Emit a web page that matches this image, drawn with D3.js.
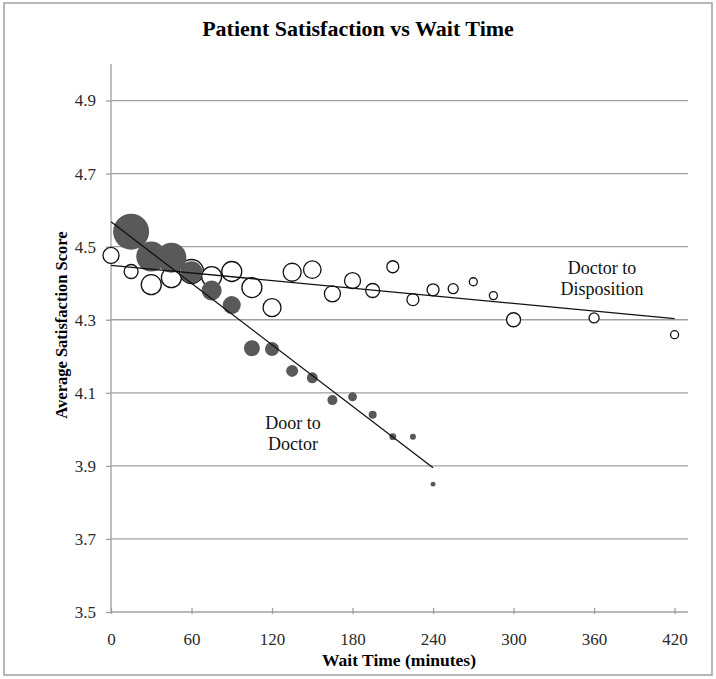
<!DOCTYPE html>
<html>
<head>
<meta charset="utf-8">
<script src="https://cdn.jsdelivr.net/npm/d3@7/dist/d3.min.js"></script>
<style>
  html, body { margin: 0; padding: 0; background: #fff; }
  svg { display: block; }
</style>
</head>
<body>
<svg id="chart" width="716" height="679"></svg>
<script>
// ---- Data ----
const title = "Patient Satisfaction vs Wait Time";
const xTitle = "Wait Time (minutes)";
const yTitle = "Average Satisfaction Score";

const xTicks = [0, 60, 120, 180, 240, 300, 360, 420];
const yTicks = [3.5, 3.7, 3.9, 4.1, 4.3, 4.5, 4.7, 4.9];

// Door to Doctor (filled bubbles)
const doorMinutes = [15, 30, 45, 60, 75, 90, 105, 120, 135, 150, 165, 180, 195, 210, 225, 240];
const doorScores  = [4.541, 4.473, 4.470, 4.430, 4.380, 4.340, 4.222, 4.220, 4.160, 4.141, 4.080, 4.089, 4.040, 3.980, 3.980, 3.850];
const doorSizes   = [324, 225, 225, 121, 100, 81, 64, 49, 36, 30, 25, 20, 16, 12, 9, 6];

// Doctor to Disposition (open bubbles)
const dispMinutes = [0, 15, 30, 45, 60, 75, 90, 105, 120, 135, 150, 165, 180, 195, 210, 225, 240, 255, 270, 285, 300, 360, 420];
const dispScores  = [4.476, 4.432, 4.396, 4.415, 4.432, 4.418, 4.432, 4.388, 4.333, 4.430, 4.437, 4.371, 4.407, 4.380, 4.445, 4.355, 4.382, 4.385, 4.404, 4.366, 4.300, 4.305, 4.259];
const dispSizes   = [64, 49, 100, 100, 144, 100, 100, 100, 81, 81, 76, 64, 64, 49, 36, 36, 36, 25, 16, 16, 49, 25, 16];

// Linear trendlines (endpoints)
const doorTrendX = [0, 240];
const doorTrendY = [4.568, 3.895];
const dispTrendX = [0, 420];
const dispTrendY = [4.449, 4.303];

const doorLabel = ["Door to", "Doctor"];
const dispLabel = ["Doctor to", "Disposition"];

// ---- Layout ----
const svg = d3.select("#chart");
const plot = { left: 111, right: 688, top: 64, bottom: 612 };
const font = "'Liberation Serif', 'Times New Roman', serif";

const x = d3.scaleLinear().domain([0, 430]).range([plot.left, plot.right]);
const y = d3.scaleLinear().domain([3.5, 5.0]).range([plot.bottom, plot.top]);
const r = d3.scaleSqrt().domain([0, 324]).range([0, 18]);

// outer border
svg.append("rect")
  .attr("x", 4).attr("y", 3).attr("width", 708).attr("height", 672)
  .attr("fill", "#fff").attr("stroke", "#a6a6a6").attr("stroke-width", 1.6);

// gridlines
svg.append("g").selectAll("line")
  .data(yTicks.filter(v => v > 3.5))
  .join("line")
  .attr("x1", plot.left).attr("x2", plot.right)
  .attr("y1", d => y(d)).attr("y2", d => y(d))
  .attr("stroke", "#a0a0a0").attr("stroke-width", 1.3);

// y axis
const yAxis = svg.append("g")
  .attr("transform", `translate(${plot.left},0)`)
  .call(d3.axisLeft(y).tickValues(yTicks).tickFormat(d3.format(".1f")).tickSize(5).tickPadding(10));
yAxis.select(".domain").remove();
yAxis.append("line").attr("x1", 0).attr("x2", 0).attr("y1", plot.top).attr("y2", plot.bottom)
  .attr("stroke", "#a0a0a0").attr("stroke-width", 1.3);
yAxis.selectAll(".tick line").attr("stroke", "#a0a0a0").attr("stroke-width", 1.3);
yAxis.selectAll(".tick text")
  .attr("font-family", font).attr("font-size", 17).attr("fill", "#2a2a2a");

// x axis
const xAxis = svg.append("g")
  .attr("transform", `translate(0,${plot.bottom})`)
  .call(d3.axisBottom(x).tickValues(xTicks).tickFormat(d3.format("d")).tickSize(0).tickPadding(0));
xAxis.select(".domain").remove();
xAxis.append("line").attr("x1", plot.left).attr("x2", plot.right).attr("y1", 0).attr("y2", 0)
  .attr("stroke", "#a0a0a0").attr("stroke-width", 1.3);
xAxis.selectAll(".tick line").attr("y1", -4).attr("y2", 2)
  .attr("stroke", "#a0a0a0").attr("stroke-width", 1.3);
xAxis.selectAll(".tick text")
  .attr("font-family", font).attr("font-size", 17).attr("fill", "#2a2a2a")
  .attr("y", 33).attr("dy", 0);

// Doctor to Disposition bubbles (open, white fill)
const dispData = dispMinutes.map((m, i) => ({ m, s: dispScores[i], n: dispSizes[i] }));
svg.append("g").selectAll("circle")
  .data(dispData).join("circle")
  .attr("cx", d => x(d.m)).attr("cy", d => y(d.s)).attr("r", d => r(d.n))
  .attr("fill", "#fff").attr("stroke", "#111").attr("stroke-width", 1.3);

// Door to Doctor bubbles (filled)
const doorData = doorMinutes.map((m, i) => ({ m, s: doorScores[i], n: doorSizes[i] }));
svg.append("g").selectAll("circle")
  .data(doorData).join("circle")
  .attr("cx", d => x(d.m)).attr("cy", d => y(d.s)).attr("r", d => r(d.n))
  .attr("fill", "#595959");

// trendlines
const line = d3.line().x(d => x(d[0])).y(d => y(d[1]));
svg.append("path")
  .datum(dispTrendX.map((v, i) => [v, dispTrendY[i]]))
  .attr("d", line).attr("fill", "none").attr("stroke", "#111").attr("stroke-width", 1.3);
svg.append("path")
  .datum(doorTrendX.map((v, i) => [v, doorTrendY[i]]))
  .attr("d", line).attr("fill", "none").attr("stroke", "#111").attr("stroke-width", 1.3);

// series labels
svg.append("text")
  .attr("font-family", font).attr("font-size", 18).attr("fill", "#111").attr("text-anchor", "middle")
  .selectAll("tspan").data(doorLabel).join("tspan")
  .attr("x", 293).attr("y", (d, i) => 429 + i * 21).text(d => d);
svg.append("text")
  .attr("font-family", font).attr("font-size", 18).attr("fill", "#111").attr("text-anchor", "middle")
  .selectAll("tspan").data(dispLabel).join("tspan")
  .attr("x", 602).attr("y", (d, i) => 274 + i * 21).text(d => d);

// titles
svg.append("text")
  .attr("x", 358).attr("y", 36).attr("text-anchor", "middle")
  .attr("font-family", font).attr("font-size", 22).attr("font-weight", "bold").attr("fill", "#000")
  .text(title);
svg.append("text")
  .attr("x", 399).attr("y", 666).attr("text-anchor", "middle")
  .attr("font-family", font).attr("font-size", 17.5).attr("font-weight", "bold").attr("fill", "#000")
  .text(xTitle);
svg.append("text")
  .attr("transform", "translate(67,325) rotate(-90)").attr("text-anchor", "middle")
  .attr("font-family", font).attr("font-size", 16.5).attr("font-weight", "bold").attr("fill", "#000")
  .text(yTitle);
</script>
</body>
</html>
